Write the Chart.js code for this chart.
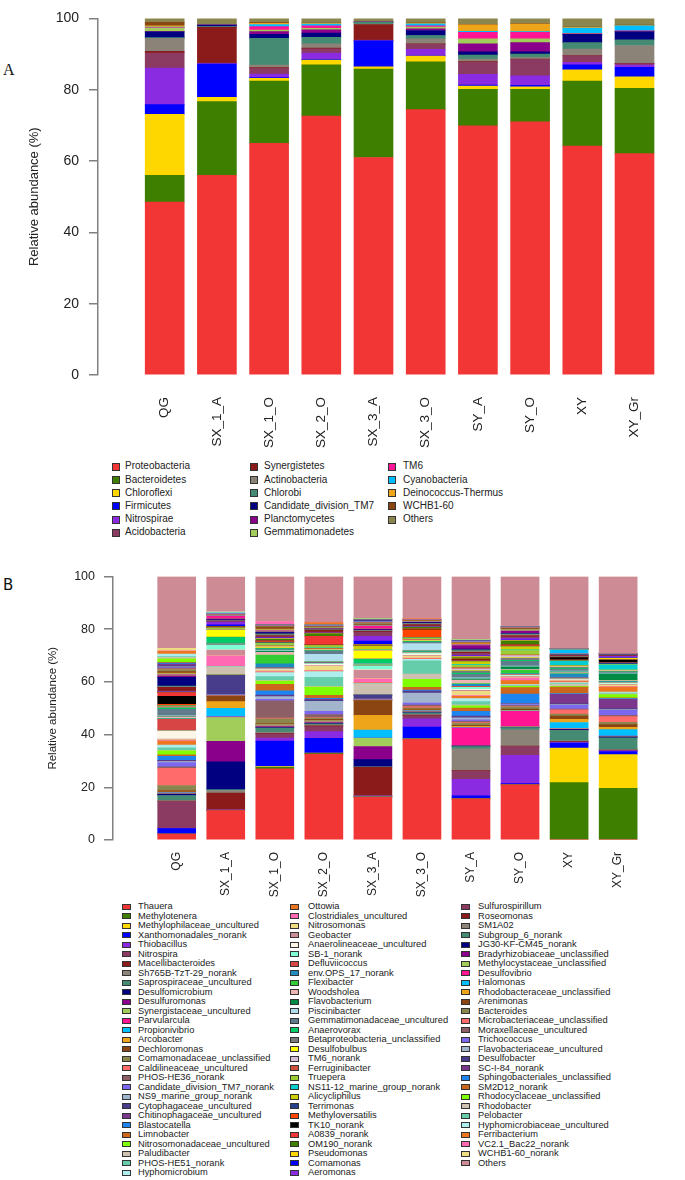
<!DOCTYPE html>
<html>
<head>
<meta charset="utf-8">
<script src="https://cdn.jsdelivr.net/npm/chart.js@4.4.1/dist/chart.umd.min.js"></script>
<style>
  html, body { margin: 0; padding: 0; background: #fff; overflow: hidden; }
  body { width: 685px; height: 1180px; position: relative; font-family: 'Liberation Sans', Arial, sans-serif; }
  canvas { position: absolute; left: 0; }
  #chartA { top: 0; }
  #chartB { top: 560px; }
  .tag { position: absolute; color: #111; }
  .row { position: absolute; white-space: nowrap; color: #222; }
  .row i { display: inline-block; vertical-align: middle; box-sizing: border-box; border: 1px solid #333; }
</style>
</head>
<body>
<div class="tag" style="left:3px;top:62px;font:16px/16px 'Liberation Serif',serif">A</div>
<canvas id="chartA" width="685" height="455"></canvas>
<div id="legendA"></div>
<div class="tag" style="left:3px;top:578px;font:15px/15px 'DejaVu Sans',sans-serif">B</div>
<canvas id="chartB" width="685" height="340"></canvas>
<div id="legendB"></div>
<script>
const samples = ['QG', 'SX_1_A', 'SX_1_O', 'SX_2_O', 'SX_3_A', 'SX_3_O', 'SY_A', 'SY_O', 'XY', 'XY_Gr'];

// Panel A: phylum level, one array per phylum (samples in order above)
const proteobacteria   = [48.5, 56.0, 65.0, 72.6, 61.0, 74.4, 69.9, 71.0, 64.2, 62.1];
const bacteroidetes    = [7.5, 20.7, 17.4, 14.4, 24.8, 13.4, 10.2, 9.1, 18.2, 18.3];
const chloroflexi      = [17.1, 1.2, 0.8, 1.3, 0.6, 1.6, 0.9, 0.7, 3.2, 3.2];
const firmicutes       = [2.7, 9.3, 0.2, 0.2, 7.3, 0.1, 0.3, 0.4, 1.4, 2.7];
const nitrospirae      = [10.3, 0.1, 1.0, 1.8, 0.1, 1.8, 3.0, 2.7, 0.7, 0.6];
const acidobacteria    = [4.2, 0.2, 1.6, 1.2, 0.1, 1.4, 3.4, 4.6, 1.8, 0.4];
const synergistetes    = [0.5, 10.0, 0.2, 0.2, 4.4, 0.2, 0.2, 0.1, 0.1, 0.1];
const actinobacteria   = [3.6, 0.1, 0.7, 1.2, 0.1, 1.4, 0.7, 0.5, 1.8, 5.0];
const chlorobi         = [0.2, 0.1, 7.5, 1.8, 0.5, 0.9, 1.1, 0.9, 1.8, 1.6];
const candidateTM7     = [1.6, 0.4, 1.1, 1.2, 0.1, 1.4, 0.9, 0.6, 2.3, 2.2];
const planctomycetes   = [0.1, 0.1, 0.8, 0.9, 0, 0.5, 2.3, 2.6, 0.1, 0.1];
const gemmatimonadetes = [1.0, 0.1, 0.4, 0.4, 0, 0.5, 1.4, 1.1, 0.1, 0.1];
const tm6              = [0.1, 0, 1.0, 0.7, 0, 0.3, 1.8, 1.8, 0.1, 0.1];
const cyanobacteria    = [0.2, 0, 0.6, 0.5, 0, 0.6, 0.3, 0.2, 1.5, 1.4];
const deinococcus      = [0.3, 0, 0.3, 0.2, 0, 0.2, 1.8, 2.1, 0.2, 0.1];
const wchb160          = [1.0, 0, 0.2, 0.1, 0, 0.1, 0.1, 0.1, 0.1, 0.1];
const othersA          = [1.1, 1.7, 1.2, 1.3, 1.0, 1.2, 1.7, 1.5, 2.4, 1.9];

const phyla = ['Proteobacteria', 'Bacteroidetes', 'Chloroflexi', 'Firmicutes', 'Nitrospirae', 'Acidobacteria',
  'Synergistetes', 'Actinobacteria', 'Chlorobi', 'Candidate_division_TM7', 'Planctomycetes', 'Gemmatimonadetes',
  'TM6', 'Cyanobacteria', 'Deinococcus-Thermus', 'WCHB1-60', 'Others'];
const seriesA = [proteobacteria, bacteroidetes, chloroflexi, firmicutes, nitrospirae, acidobacteria, synergistetes,
  actinobacteria, chlorobi, candidateTM7, planctomycetes, gemmatimonadetes, tm6, cyanobacteria, deinococcus, wchb160, othersA];

// Panel B: genus level, legend order
const genera = ['Thauera', 'Methylotenera', 'Methylophilaceae_uncultured', 'Xanthomonadales_norank', 'Thiobacillus',
  'Nitrospira', 'Macellibacteroides', 'Sh765B-TzT-29_norank', 'Saprospiraceae_uncultured', 'Desulfomicrobium',
  'Desulfuromonas', 'Synergistaceae_uncultured', 'Parvularcula', 'Propionivibrio', 'Arcobacter', 'Dechloromonas',
  'Comamonadaceae_unclassified', 'Caldilineaceae_uncultured', 'PHOS-HE36_norank', 'Candidate_division_TM7_norank',
  'NS9_marine_group_norank', 'Cytophagaceae_uncultured', 'Chitinophagaceae_uncultured', 'Blastocatella', 'Limnobacter',
  'Nitrosomonadaceae_uncultured', 'Paludibacter', 'PHOS-HE51_norank', 'Hyphomicrobium',
  'Ottowia', 'Clostridiales_uncultured', 'Nitrosomonas', 'Geobacter', 'Anaerolineaceae_uncultured', 'SB-1_norank',
  'Defluviicoccus', 'env.OPS_17_norank', 'Flexibacter', 'Woodsholea', 'Flavobacterium', 'Piscinibacter',
  'Gemmatimonadaceae_uncultured', 'Anaerovorax', 'Betaproteobacteria_unclassified', 'Desulfobulbus', 'TM6_norank',
  'Ferruginibacter', 'Truepera', 'NS11-12_marine_group_norank', 'Alicycliphilus', 'Terrimonas', 'Methyloversatilis',
  'TK10_norank', 'A0839_norank', 'OM190_norank', 'Pseudomonas', 'Comamonas', 'Aeromonas',
  'Sulfurospirillum', 'Roseomonas', 'SM1A02', 'Subgroup_6_norank', 'JG30-KF-CM45_norank',
  'Bradyrhizobiaceae_unclassified', 'Methylocystaceae_unclassified', 'Desulfovibrio', 'Halomonas',
  'Rhodobacteraceae_unclassified', 'Arenimonas', 'Bacteroides', 'Microbacteriaceae_unclassified',
  'Moraxellaceae_uncultured', 'Trichococcus', 'Flavobacteriaceae_uncultured', 'Desulfobacter', 'SC-I-84_norank',
  'Sphingobacteriales_unclassified', 'SM2D12_norank', 'Rhodocyclaceae_unclassified', 'Rhodobacter', 'Pelobacter',
  'Hyphomicrobiaceae_uncultured', 'Ferribacterium', 'VC2.1_Bac22_norank', 'WCHB1-60_norank', 'Others'];

// one array per sample, values in genus order
const genusQG = [2.2, 0, 0, 2.1, 0.1, 10.2, 0.2, 0.2, 1.9, 0.4,
  0.2, 0.2, 0.1, 0.2, 0.2, 0.6, 1.9, 6.5, 0.6, 1.6,
  0.4, 0.2, 0.2, 1.6, 0.5, 1.5, 0.2, 1.0, 1.0, 1.5,
  0.2, 0.3, 0.3, 2.9, 0.2, 4.4, 0.2, 0.1, 0.6, 0.2,
  0.2, 2.5, 0.5, 0.2, 0, 0.1, 0.2, 0.1, 0.1, 0.1,
  0.1, 0.5, 3.0, 1.4, 0.1, 0.1, 0.1, 0.1, 0.2, 1.4,
  0.2, 0.3, 3.3, 0.6, 0.3, 0.2, 0.2, 0.3, 0.6, 0.8,
  0.2, 0.3, 0.3, 0.2, 0.3, 0.8, 0.3, 0.3, 1.4, 0.5,
  0.3, 1.0, 1.0, 0.2, 0.9, 27.3];
const genusSX1A = [11.2, 0, 0, 0.1, 0.1, 0.2, 6.2, 1.0, 0.3, 10.6,
  7.7, 9.1, 0.2, 3.3, 2.5, 2.0, 0.1, 0.1, 0.2, 0.1,
  0.1, 7.3, 0.1, 0.1, 0.1, 0.1, 2.8, 0.1, 0.1, 0.1,
  4.0, 0.1, 2.1, 0.1, 1.8, 0.1, 0.1, 0.1, 0.1, 0.1,
  0.1, 0.1, 2.2, 0.1, 2.6, 0.1, 0.1, 0.1, 0.1, 0.5,
  0.1, 0.1, 0.1, 0.1, 0.1, 0.1, 0.6, 1.0, 0.2, 0.2,
  0.1, 0.1, 0.3, 0.3, 0.1, 1.0, 0.1, 0.1, 0.1, 0.1,
  0.1, 0.1, 0.1, 0.1, 0, 0.1, 0, 0, 0, 0,
  0.4, 0.3, 0, 0, 0, 13.3];
const genusSX1O = [27.0, 0.6, 0.3, 9.6, 1.2, 1.6, 0.2, 0.5, 1.5, 0.2,
  0.3, 0.3, 0.1, 0.2, 0.2, 0.4, 1.8, 0.3, 6.5, 0.6,
  1.0, 0.3, 0.3, 1.6, 2.5, 1.2, 0.3, 1.4, 1.5, 0.2,
  0.2, 0.4, 0.2, 0.2, 0.3, 0.3, 1.6, 3.3, 1.0, 0.5,
  0.3, 0.3, 0.3, 0.2, 0.4, 0.2, 0.3, 0.5, 0.2, 0.3,
  0.4, 0.3, 0.1, 0.2, 0.5, 0.2, 0.2, 0.2, 0.3, 0.5,
  0.3, 0.3, 0.5, 0.3, 0.3, 0.2, 0.2, 0.3, 0.8, 0.3,
  0.1, 0.1, 0.1, 0.1, 0.1, 0, 0, 0, 0, 0,
  0, 0.1, 0.1, 1.1, 0, 17.1];
const genusSX2O = [32.6, 0.3, 0.1, 5.6, 2.5, 1.9, 0.3, 0.4, 0.4, 0.2,
  0.3, 0.2, 0.1, 0.2, 0.2, 0.5, 0.6, 0.2, 1.0, 1.2,
  3.8, 0.4, 0.4, 0.4, 1.1, 3.1, 0.3, 3.4, 2.2, 0.2,
  0.2, 1.6, 0.3, 0.5, 0.3, 0.2, 0.2, 0.1, 0.1, 0.1,
  2.8, 1.2, 0.2, 0.2, 0.1, 0.2, 0.2, 0.3, 0.3, 0.6,
  0.2, 0.2, 0.1, 3.0, 0.9, 0.1, 0.1, 0.1, 0.4, 0.8,
  0.1, 0.1, 0.1, 0.1, 0.1, 0.1, 0.1, 0.2, 0.3, 0.1,
  0.1, 0.1, 0.1, 0.1, 0.1, 0.1, 0, 0, 0, 0,
  0, 0, 0.9, 0, 0, 17.5];
const genusSX3A = [16.2, 0.1, 0.1, 0.2, 0.1, 0.2, 10.7, 0.1, 0.1, 2.7,
  5.0, 3.1, 0.1, 3.0, 5.6, 5.6, 0.1, 0.1, 0.1, 0.1,
  0.2, 1.4, 0.1, 0.1, 0.1, 0.1, 4.0, 0.1, 0.1, 0.1,
  1.6, 0.2, 3.1, 0.2, 1.4, 0.1, 0.1, 0.2, 0.1, 0.2,
  0.1, 0.1, 1.6, 0.2, 2.9, 0.1, 0.1, 0.2, 0.1, 1.4,
  0.1, 0.1, 0.1, 0.1, 0.1, 0.1, 1.3, 1.8, 1.6, 0.3,
  0.2, 0.2, 0.2, 0.2, 0.1, 1.1, 0.1, 0.2, 0.3, 0.5,
  0.1, 0.2, 0.1, 0.1, 0.6, 0.1, 0.1, 0.1, 0.1, 0.1,
  0, 0, 0, 0, 0, 16.1];
const genusSX3O = [38.2, 0.1, 0.1, 4.5, 3.1, 1.2, 0.2, 0.3, 0.6, 0.1,
  0.2, 0.2, 0.1, 0.2, 0.2, 0.4, 0.5, 0.4, 0.6, 0.8,
  3.8, 0.4, 0.3, 0.4, 1.0, 3.1, 2.0, 5.0, 0.6, 0.2,
  0.2, 0.8, 0.3, 0.6, 0.3, 0.2, 0.2, 0.2, 0.2, 0.2,
  2.5, 0.5, 0.3, 0.2, 0.2, 0.2, 0.3, 0.3, 0.1, 0.1,
  0.1, 3.0, 0.1, 0.2, 0.6, 0.1, 0.1, 0.1, 0.2, 0.6,
  0.2, 0.2, 0.3, 0.1, 0.1, 0.1, 0.1, 0.2, 0.2, 0.1,
  0.1, 0.1, 0, 0, 0, 0, 0, 0, 0, 0,
  0, 0, 0.3, 0, 0, 16.1];
const genusSYA = [15.6, 0, 0, 1.2, 6.2, 3.2, 0.1, 8.3, 0.9, 0.1,
  0.1, 0.1, 6.8, 0.2, 0.3, 0.4, 0.9, 0.3, 0.3, 0.6,
  0.8, 0.3, 0.3, 1.8, 1.3, 0.8, 0.4, 1.2, 1.2, 0.8,
  0.3, 1.6, 0.4, 0.4, 0.7, 0.4, 0.8, 0.3, 1.3, 0.5,
  0.3, 1.4, 0.4, 0.9, 0.2, 0.6, 0.4, 1.0, 0.3, 1.0,
  0.3, 0.4, 0.2, 0.2, 0.4, 0.4, 0.2, 0.3, 0.7, 0.4,
  0.5, 0.5, 0.3, 1.3, 0.2, 0.2, 0.1, 0.2, 0.2, 0.2,
  0.1, 0.1, 0.1, 0.2, 0.1, 0.1, 0.1, 0.1, 0.1, 0.1,
  0, 0, 0.1, 0, 0, 23.9];
const genusSYO = [20.9, 0, 0, 0.5, 10.7, 3.4, 0.1, 6.2, 0.9, 0.1,
  0.1, 0.1, 5.8, 0.2, 0.2, 0.5, 0.8, 0.2, 0.3, 0.4,
  0.2, 0.1, 0.1, 3.6, 2.4, 0.5, 0.2, 0.3, 0.2, 1.5,
  1.0, 0.3, 0.3, 0.2, 0.3, 0.3, 0.3, 1.2, 0.3, 1.0,
  0.3, 1.8, 0.4, 0.8, 0.2, 0.8, 0.3, 1.6, 0.3, 1.2,
  0.2, 0.3, 0.1, 0.2, 1.3, 0.2, 0.2, 0.6, 0.6, 0.5,
  0.4, 0.2, 0.2, 0.9, 0.2, 0.1, 0.1, 0.2, 0.3, 0.2,
  0.1, 0.1, 0.1, 0.1, 0, 0.1, 0, 0, 0.1, 0,
  0, 0, 0, 0, 0, 19.0];
const genusXY = [0.3, 21.5, 13.1, 1.9, 0.2, 0.3, 0.1, 0.2, 4.0, 0.3,
  0.1, 0.2, 0.1, 2.3, 1.2, 1.2, 0.8, 1.6, 0.3, 1.4,
  0.3, 0.3, 3.6, 0.3, 2.4, 0.3, 0.8, 0.3, 0.3, 0.4,
  0.2, 0.2, 0.2, 0.2, 0.3, 0.3, 1.5, 0.2, 0.3, 0.3,
  0.3, 0.8, 0.3, 0.3, 0.1, 0.2, 0.2, 0.3, 1.5, 0.2,
  0.3, 0.1, 0.8, 0.1, 0.1, 0.1, 0.1, 0.1, 0.2, 0.2,
  0.1, 0.1, 0.1, 0.1, 0.1, 0.1, 1.5, 0.1, 0.1, 0.1,
  0, 0, 0, 0, 0, 0, 0.2, 0, 0, 0,
  0, 0, 0, 0, 0, 27.3];
const genusXYGr = [0.3, 19.3, 12.8, 1.2, 0.2, 0.2, 0.1, 0.2, 4.5, 0.3,
  0.1, 0.1, 0.1, 2.5, 0.9, 1.0, 0.9, 2.1, 0.5, 1.9,
  0.3, 0.3, 3.6, 0.3, 0.3, 1.2, 0.3, 0.3, 0.3, 1.9,
  0.2, 0.6, 0.3, 0.2, 0.3, 0.2, 0.3, 0.2, 0.3, 2.5,
  0.2, 0.3, 0.2, 0.2, 0.1, 0.2, 0.1, 0.2, 1.9, 0.2,
  0.5, 0.2, 0.8, 0.2, 0.2, 0.4, 0.2, 0.5, 0.2, 0.2,
  0.1, 0.1, 0.1, 0.1, 0.1, 0.1, 0, 0, 0, 0,
  0, 0, 0, 0, 0, 0, 0, 0, 0, 0,
  0, 0, 0, 0, 0, 29.3];
const seriesB = [genusQG, genusSX1A, genusSX1O, genusSX2O, genusSX3A, genusSX3O, genusSYA, genusSYO, genusXY, genusXYGr];

// colour cycle used by both panels (53 colours, then it repeats)
const palette = ['#F23636', '#3F7F00', '#FFD700', '#0000FF', '#8A2BE2', '#8B3A62', '#8B1A1A', '#8B8378',
  '#458B74', '#000080', '#8B008B', '#A2CD5A', '#FF1493', '#00BFFF', '#EEA51A', '#8B4513', '#8B864E',
  '#FF6A6A', '#8B5F65', '#7B68EE', '#A2B5CD', '#483D8B', '#7A378B', '#1C86EE', '#CD661D', '#7FFF00',
  '#CDC0B0', '#66CDAA', '#AEEEEE', '#EE7621', '#FF69B4', '#EEDC82', '#CD8C95', '#FDF5E6', '#7FFFD4',
  '#D84545', '#1E8CC0', '#32CD32', '#EEB4B4', '#008B45', '#B2DFEE', '#607B8B', '#00CD66', '#7A7A7A',
  '#FFFF00', '#D8BFD8', '#CD4F39', '#9ACD32', '#00CED1', '#CDCD00', '#27408B', '#FF4500', '#000000'];

Chart.defaults.font.family = "'Liberation Sans', Arial, sans-serif";
Chart.defaults.color = '#222';

function makeChart(id, names, series, opt) {
  const datasets = names.map((name, k) => ({
    label: name,
    data: samples.map((s, i) => ({ x: i, y: series.map(a => a)[0] === undefined ? 0 : opt.pick(series, k, i) })),
    backgroundColor: palette[k % palette.length],
    borderWidth: 0,
    barThickness: opt.barWidth
  }));
  return new Chart(document.getElementById(id), {
    type: 'bar',
    data: { datasets },
    options: {
      responsive: false,
      animation: false,
      layout: { padding: { top: opt.top, right: 0, bottom: 0, left: 0 } },
      plugins: { legend: { display: false }, tooltip: { enabled: false } },
      scales: {
        x: {
          type: 'linear', stacked: true, min: opt.xmin, max: opt.xmax,
          grid: { display: false, drawTicks: true, tickLength: opt.labelGap },
          border: { display: false },
          ticks: {
            stepSize: 1, autoSkip: false, includeBounds: false, maxRotation: 90, minRotation: 90,
            padding: 0, color: '#222', font: { size: opt.xFont },
            callback: v => samples[v] ?? ''
          },
          afterFit: s => { s.height = opt.xHeight; }
        },
        y: {
          stacked: true, min: 0, max: 100,
          ticks: { stepSize: 20, padding: opt.yPad, color: '#222', font: { size: opt.yFont } },
          grid: { drawOnChartArea: false, tickLength: 9, color: '#808080', lineWidth: 1.5 },
          border: { color: '#808080', width: 1.5 },
          title: { display: true, text: 'Relative abundance (%)', color: '#222',
                   font: { size: opt.titleFont }, padding: { top: opt.titlePad, bottom: 0 } },
          afterFit: s => { s.width = opt.axisX; }
        }
      }
    }
  });
}

// panel A: series are per phylum; panel B: series are per sample
makeChart('chartA', phyla, seriesA, {
  pick: (arr, k, i) => arr[k][i],
  barWidth: 39, top: 10, axisX: 98, xmin: -0.7155, xmax: 9.405,
  labelGap: 22, xHeight: 80, xFont: 13.5, yFont: 14, yPad: 10, titleFont: 13, titlePad: 27
});
makeChart('chartB', genera, seriesB, {
  pick: (arr, k, i) => arr[i][k],
  barWidth: 38, top: 11, axisX: 113, xmin: -0.7156, xmax: 9.7798,
  labelGap: 12, xHeight: 60, xFont: 12, yFont: 12.5, yPad: 9, titleFont: 11.5, titlePad: 46
});

function buildLegend(el, names, perCol, sqLeft, textLeft, top, step, sqW, sqH, fontSize) {
  const box = document.getElementById(el);
  names.forEach((name, k) => {
    const col = Math.floor(k / perCol), row = k % perCol;
    const d = document.createElement('div');
    d.className = 'row';
    d.style.left = sqLeft[col] + 'px';
    d.style.top = (top + row * step - step / 2) + 'px';
    d.style.height = step + 'px';
    d.style.lineHeight = step + 'px';
    d.style.fontSize = fontSize + 'px';
    const sq = document.createElement('i');
    sq.style.width = sqW + 'px';
    sq.style.height = sqH + 'px';
    sq.style.background = palette[k % palette.length];
    sq.style.marginRight = (textLeft[col] - sqLeft[col] - sqW) + 'px';
    d.appendChild(sq);
    d.appendChild(document.createTextNode(name));
    box.appendChild(d);
  });
}
buildLegend('legendA', phyla, 6, [112, 250, 388], [125, 264, 403], 466, 13.2, 8, 8, 10);
buildLegend('legendB', genera, 29, [122, 290, 461], [138, 308, 478], 907, 9.5, 9, 6, 9.3);
</script>
</body>
</html>
